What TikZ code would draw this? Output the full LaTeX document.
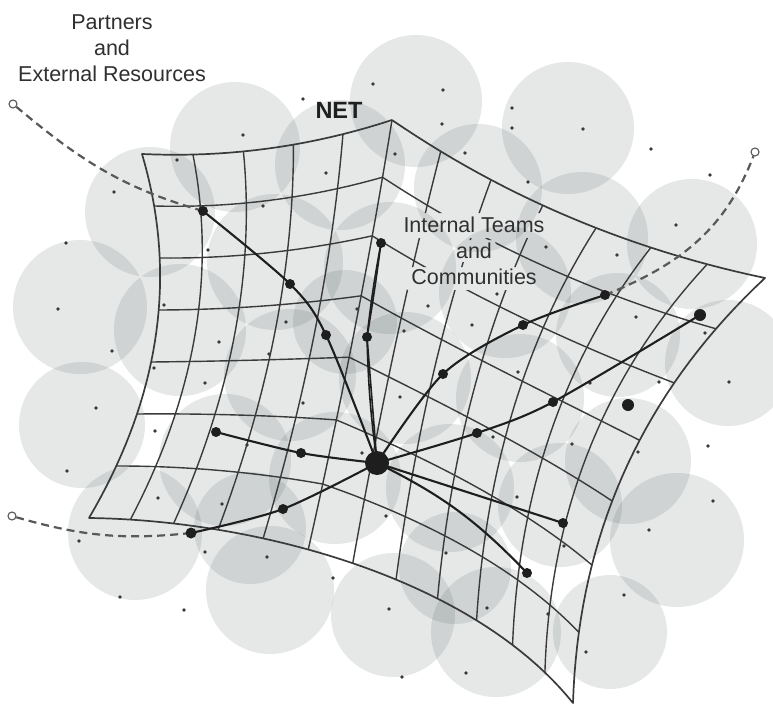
\documentclass[tikz,border=0pt]{standalone}
\usepackage{fontspec}
\setmainfont{Liberation Sans}

\pgfdeclarelayer{paper}
\pgfdeclarelayer{disks}
\pgfdeclarelayer{mesh}
\pgfdeclarelayer{links}
\pgfsetlayers{paper,disks,mesh,links,main}

\definecolor{diskfill}{RGB}{22,38,38}
\definecolor{meshline}{RGB}{58,58,58}
\definecolor{linkcol}{RGB}{30,30,30}
\definecolor{dashcol}{RGB}{88,88,88}
\definecolor{labelcol}{RGB}{48,48,48}

\begin{document}
\begin{tikzpicture}[x=1pt, y=-1pt,
  declare function={
    qbez(\w,\ka,\kb,\kc) = (1-\w)*(1-\w)*\ka + 2*\w*(1-\w)*\kb + \w*\w*\kc;
    cbez(\w,\ka,\kb,\kc,\kd) = (1-\w)*(1-\w)*(1-\w)*\ka + 3*(1-\w)*(1-\w)*\w*\kb + 3*(1-\w)*\w*\w*\kc + \w*\w*\w*\kd;
    topx(\s) = (\s<=5/12) ? qbez(2.4*\s,142,270,392) : qbez((12*\s-5)/7,392,560,765);
    topy(\s) = (\s<=5/12) ? qbez(2.4*\s,154,160,120) : qbez((12*\s-5)/7,120,235,278);
    botx(\s) = cbez(\s,89,250,470,573);
    boty(\s) = cbez(\s,518,520,575,703);
    lefx(\s) = qbez(\s,142,196,89);
    lefy(\s) = qbez(\s,154,336,518);
    rigx(\s) = qbez(\s,765,581,573);
    rigy(\s) = qbez(\s,278,450,703);
    netx(\s,\t) = (1-\t)*topx(\s) + \t*botx(\s) + (1-\s)*lefx(\t) + \s*rigx(\t)
                  - (1-\s)*(1-\t)*142 - \s*(1-\t)*765 - (1-\s)*\t*89 - \s*\t*573;
    nety(\s,\t) = (1-\t)*topy(\s) + \t*boty(\s) + (1-\s)*lefy(\t) + \s*rigy(\t)
                  - (1-\s)*(1-\t)*154 - \s*(1-\t)*278 - (1-\s)*\t*518 - \s*\t*703;
  },
  disk/.style={fill=diskfill, fill opacity=0.105},
  meshpath/.style={draw=meshline, line width=1.4pt, line join=round},
  rimpath/.style={draw=meshline, line width=1.7pt, line join=round},
  conn/.style={draw=linkcol, line width=2.1pt, line cap=round},
  dashlink/.style={draw=dashcol, line width=2.2pt, dash pattern=on 8pt off 5pt},
  netdot/.style={circle, fill=linkcol, inner sep=0pt, minimum size=10pt},
  hubdot/.style={circle, fill=linkcol, inner sep=0pt, minimum size=24pt},
  endring/.style={circle, draw=dashcol, fill=white, line width=1.1pt, inner sep=0pt, minimum size=8pt},
  speck/.style={fill=black!78},
  caption/.style={font=\fontsize{21.5}{26}\selectfont, text=labelcol, align=center, inner sep=0pt},
]

% page size and white paper
\useasboundingbox (0,0) rectangle (773,706);
\begin{pgfonlayer}{paper}
  \fill[white] (0,0) rectangle (773,706);
\end{pgfonlayer}

% translucent grey disks
\begin{pgfonlayer}{disks}
  % outer ring of disks
  \foreach \cx/\cy/\cr in {
      416/101/66, 235/147/65, 340/165/65, 568/128/66, 478/188/64,
      582/238/66, 692/244/65, 728/363/63, 628/461/63, 677/540/67,
      610/632/57, 496/632/65, 393/615/62, 270/590/64, 135/533/67,
      82/425/63, 80/307/67, 150/212/65, 180/330/66}
    \fill[disk] (\cx,\cy) circle[radius=\cr];
  % disks under the net
  \foreach \cx/\cy/\cr in {
      275/262/68, 390/268/66, 505/292/66, 618/335/62,
      290/375/66, 405/378/66, 520/398/64,
      225/460/66, 335/478/66, 450/488/64, 560/505/62,
      250/528/56, 455/568/56, 345/322/52}
    \fill[disk] (\cx,\cy) circle[radius=\cr];
  \foreach \px/\py in {
      303/99, 373/84, 443/90, 442/124, 512/108, 512/128, 583/129, 243/135,
      177/160, 114/192, 326/173, 395/154, 465/153, 528/182, 651/149, 710/175,
      676/225, 263/206, 208/250, 66/243, 546/247, 617/255, 58/309, 164/305,
      286/322, 357/309, 219/342, 112/351, 154/368, 205/383, 96/408, 269/354,
      303/403, 155/431, 247/445, 67/471, 158/498, 222/504, 79/541, 205/552,
      267/557, 120/597, 184/610, 333/578, 389/609, 386/516, 362/453, 400/397,
      428/306, 404/331, 472/325, 497/294, 636/317, 705/333, 590/383, 659/382,
      729/382, 493/437, 572/444, 708/446, 638/452, 518/372, 517/497, 713/501,
      649/530, 564/546, 446/553, 487/608, 548/614, 624/595, 586/652, 466/673,
      402/677}
    \fill[speck] (\px,\py) circle[radius=1.8];
\end{pgfonlayer}

% the warped net (Coons patch, 12 x 7 cells)
\begin{pgfonlayer}{mesh}
  \begin{scope}[even odd rule, rounded corners=4pt]
    \clip (0,0) rectangle (773,706)
      (397,213) rectangle (551,238)
      (452,240) rectangle (496,262)
      (404,267) rectangle (544,290);
    \begin{scope}[sharp corners]
      \foreach \i in {1,...,11}
        \draw[meshpath] plot[variable=\vv, domain=0:1, samples=36]
          ({netx(\i/12,\vv)},{nety(\i/12,\vv)});
      \foreach \j in {1,...,6}
        \draw[meshpath] plot[variable=\uu, domain=0:1, samples=49]
          ({netx(\uu,\j/7)},{nety(\uu,\j/7)});
    \end{scope}
  \end{scope}
  \draw[rimpath]
    plot[variable=\uu, domain=0:1, samples=49] ({topx(\uu)},{topy(\uu)})
    -- plot[variable=\vv, domain=0:1, samples=36] ({rigx(\vv)},{rigy(\vv)})
    -- plot[variable=\uu, domain=1:0, samples=49] ({botx(\uu)},{boty(\uu)})
    -- plot[variable=\vv, domain=1:0, samples=36] ({lefx(\vv)},{lefy(\vv)})
    -- cycle;
\end{pgfonlayer}

% nodes of the network
\node[hubdot] (hub) at (377,463) {};
\node[netdot] (a1) at (326,335) {};
\node[netdot] (a2) at (290,284) {};
\node[netdot] (a3) at (203,211) {};
\node[netdot] (b1) at (367,337) {};
\node[netdot] (b2) at (381,243) {};
\node[netdot] (c1) at (301,453) {};
\node[netdot] (c2) at (216,432) {};
\node[netdot] (e1) at (283,509) {};
\node[netdot, minimum size=11pt] (e2) at (191,533) {};
\node[netdot] (f1) at (443,374) {};
\node[netdot] (f2) at (523,325) {};
\node[netdot] (f3) at (605,295) {};
\node[netdot] (g1) at (477,433) {};
\node[netdot] (g2) at (553,402) {};
\node[netdot, minimum size=12pt] (g3) at (700,315) {};
\node[netdot] (h1) at (563,523) {};
\node[netdot] (k1) at (527,573) {};
\node[netdot, minimum size=12pt] (lone) at (628,405) {};
\node[endring] (o1) at (13,104) {};
\node[endring] (o2) at (755,152) {};
\node[endring] (o3) at (12,516) {};

% links between the nodes
\begin{pgfonlayer}{links}
  \draw[conn] plot[smooth, tension=0.5] coordinates {(hub.center) (a1.center) (a2.center) (a3.center)};
  \draw[conn, line width=1.6pt] (hub.center) to[bend left=3] (b1.center) to[bend left=2] (b2.center);
  \draw[conn, line width=1.6pt] (hub.center) to (b1.center) to[bend right=1] (b2.center);
  \draw[conn] plot[smooth, tension=0.5] coordinates {(hub.center) (c1.center) (c2.center)};
  \draw[conn] plot[smooth, tension=0.5] coordinates {(hub.center) (e1.center) (e2.center)};
  \draw[conn] plot[smooth, tension=0.5] coordinates {(hub.center) (f1.center) (f2.center) (f3.center)};
  \draw[conn] plot[smooth, tension=0.5] coordinates {(hub.center) (g1.center) (g2.center) (g3.center)};
  \draw[conn] (hub.center) -- (h1.center);
  \draw[conn] (hub.center) to[bend left=10] (k1.center);
  \draw[dashlink] (a3.center) to[out=164, in=-40] (o1);
  \draw[dashlink] (f3.center) to[out=22, in=-111] (o2);
  \draw[dashlink] (e2.center) to[out=186, in=-16] (o3);
\end{pgfonlayer}

% labels
\node[caption, anchor=north] (ext) at (112,15) {Partners\\and\\External Resources};
\node[caption, anchor=north] (int) at (474,217) {Internal Teams\\and\\Communities};
\node[font=\bfseries\fontsize{23.5}{28}\selectfont, text=black!88] (net) at (339,110.5) {NET};

\end{tikzpicture}
\end{document}
